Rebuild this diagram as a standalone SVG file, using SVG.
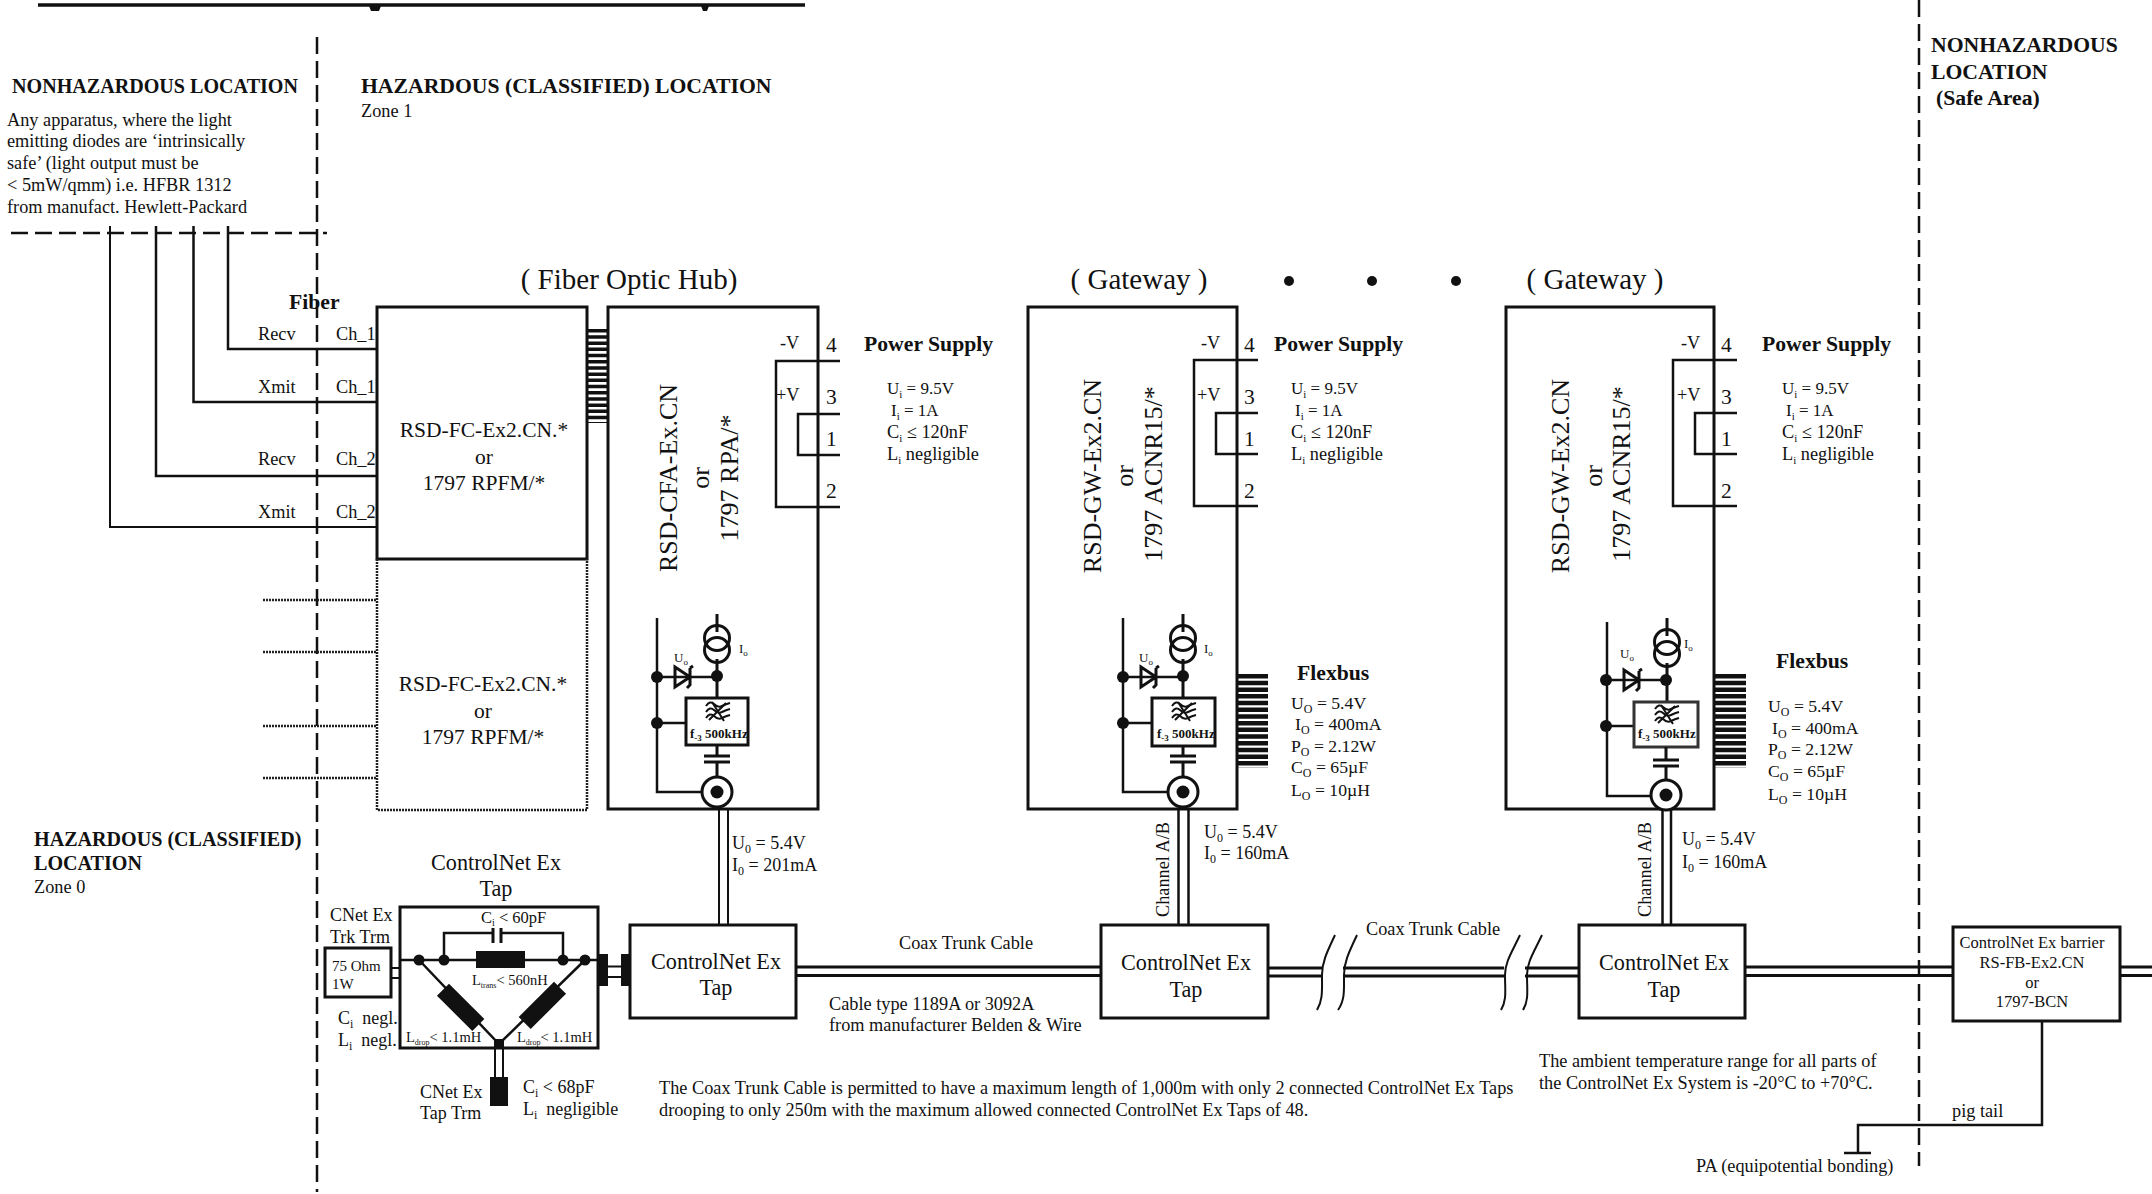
<svg xmlns="http://www.w3.org/2000/svg" xmlns:xlink="http://www.w3.org/1999/xlink" width="2152" height="1194" viewBox="0 0 2152 1194">
<style>
text{font-family:"Liberation Serif","Times New Roman",serif;fill:#111;font-size:18px}
.b{font-weight:bold;font-size:21.700px}
.b2{font-weight:bold;font-size:20.100px}
.m{font-size:21.500px}
.m2{font-size:22.200px}
.t{font-size:29px}
.r{font-size:26px}
.s{font-size:18.300px}
.p{font-size:17px}
.p2{font-size:17.700px}
.q{font-size:16.500px}
.z{font-size:14.500px}
.xs{font-size:13px}
.c{text-anchor:middle}
.l{fill:none;stroke:#111;stroke-width:2.5}
.th{fill:none;stroke:#111;stroke-width:3}
.n{fill:none;stroke:#111;stroke-width:2}
.d{fill:none;stroke:#111;stroke-width:2.5;stroke-dasharray:17 7}
.dot{fill:none;stroke:#222;stroke-width:2.5;stroke-dasharray:2 1}
.box{fill:#fff;stroke:#111;stroke-width:3}
.f{fill:#111;stroke:none}
</style>
<defs>
<g id="power">
<path class="l" d="M64 0H0V146H64M64 53H22V94H64"/>
</g>
<g id="src">
<path class="th" d="M0 0V18M0 45V84"/>
<circle class="th" cx="0" cy="24" r="12.5" fill="none"/>
<circle class="th" cx="0" cy="36" r="12.5" fill="none"/>
</g>
<g id="cap"><path class="th" d="M-13 0H13M-13 6H13"/></g>
<g id="coax"><circle cx="0" cy="0" r="15" fill="#fff" stroke="#111" stroke-width="3"/><circle class="f" r="6.5"/></g>
<g id="diode"><path class="th" d="M0 -10L15 0L0 10ZM15 -9V8L12 11M15 -9L18 -11" fill="none"/></g>
<g id="wave"><path class="n" d="M-12 -5q4 -6 8 -2t8 2t8 -3M-12 1q4 -6 8 -2t8 2t8 -3M-12 7q4 -6 8 -2t8 2t8 -3"/><path class="n" d="M-6 -9L6 10M-9 9L8 -8" stroke-width="1"/></g>
</defs>
<rect width="2152" height="1194" fill="#fff"/>

<g id="connectors">
<path d="M38 5H805" stroke="#111" stroke-width="3.5"/>
<path class="f" d="M369 6h12l-2 5h-8zM701 6h8l-2 5h-4z"/>
<path class="d" d="M317 37V1192"/>
<path class="d" d="M1919 0V1166"/>
<path class="d" d="M11 233H327"/>
<path class="l" d="M228 226V349H377M193.500 226V402H377M156 226V476H377"/>
<path class="n" d="M110 226V527H377"/>
<path class="dot" d="M263 600H377M263 652H377M263 726H377M263 778H377"/>
<!-- vertical drop cables -->
<path class="n" d="M719 810V925M728 810V925" stroke-width="3"/>
<path class="l" d="M1178.500 809V925M1188.500 809V925" stroke-width="3"/>
<path class="l" d="M1662.500 809V925M1671 809V925" stroke-width="3"/>
<!-- trunk -->
<path class="th" d="M796 967H1101M796 975.500H1101M1268 968H1323M1268 976H1323M1343 968H1504M1343 976H1504M1525 968H1579M1525 976H1579M1745 967H1953M1745 975.500H1953M2120 967H2152M2120 975.500H2152"/>
<path class="n" d="M1335 935C1327 952 1322 962 1322 975C1322 990 1323 1000 1317 1010M1357 935C1349 952 1344 962 1344 975C1344 990 1345 1000 1338 1010M1520 935C1512 952 1505 962 1505 975C1505 990 1507 1000 1501 1010M1542 935C1534 952 1527 962 1527 975C1527 990 1529 1000 1523 1010"/>
<path class="l" d="M2042 1021V1125H1858V1153M1844 1153H1871"/>
<!-- tap connectors -->
<path class="f" d="M598 954h10v32h-10zM621 954h9v32h-9z"/>
<path class="n" d="M608 966.500H621M608 977H621" stroke-width="2.500"/>
<path class="n" d="M391 968H401V978H391Z"/>
<path class="n" d="M495 1048V1077M503 1048V1077"/>
<rect class="f" x="490" y="1077" width="18" height="29"/>
</g>

<g id="location-labels">
<text class="b2" x="12" y="93">NONHAZARDOUS LOCATION</text>
<text x="7" y="126" class="s">Any apparatus, where the light</text>
<text x="7" y="147" class="s">emitting diodes are ‘intrinsically</text>
<text x="7" y="169" class="s">safe’ (light output must be</text>
<text x="7" y="191" class="s">&lt; 5mW/qmm) i.e. HFBR 1312</text>
<text x="7" y="213" class="s">from manufact. Hewlett-Packard</text>
<text class="b" x="361" y="93">HAZARDOUS (CLASSIFIED) LOCATION</text>
<text x="361" y="117" class="s">Zone 1</text>
<text class="b2" x="34" y="846">HAZARDOUS (CLASSIFIED)</text>
<text class="b2" x="34" y="870">LOCATION</text>
<text x="34" y="893" class="s">Zone 0</text>
<text class="b" x="1931" y="52">NONHAZARDOUS</text>
<text class="b" x="1931" y="79">LOCATION</text>
<text class="b" x="1936" y="105">(Safe Area)</text>
<text class="b" x="289" y="309">Fiber</text>
<text x="258" y="340" class="s">Recv</text>
<text x="336" y="340" class="s">Ch_1</text>
<text x="258" y="393" class="s">Xmit</text>
<text x="336" y="393" class="s">Ch_1</text>
<text x="258" y="465" class="s">Recv</text>
<text x="336" y="465" class="s">Ch_2</text>
<text x="258" y="518" class="s">Xmit</text>
<text x="336" y="518" class="s">Ch_2</text>
</g>

<g id="fiber-module-1">
<rect class="box" x="377" y="307" width="210" height="252"/>
<text class="m c" x="484" y="437">RSD-FC-Ex2.CN.*</text>
<text class="m c" x="484" y="464">or</text>
<text class="m c" x="484" y="490">1797 RPFM/*</text>
</g>

<g id="fiber-module-2">
<path class="dot" d="M377 559V810H587V559"/>
<text class="m c" x="483" y="691">RSD-FC-Ex2.CN.*</text>
<text class="m c" x="483" y="718">or</text>
<text class="m c" x="483" y="744">1797 RPFM/*</text>
</g>

<g id="backplane-comb">
<path d="M597.500 329V423" stroke="#111" stroke-width="21" stroke-dasharray="3.500 2.700" fill="none"/>
</g>

<g id="hub">
<text class="t c" x="629" y="289">( Fiber Optic Hub)</text>
<rect class="box" x="608" y="307" width="210" height="502"/>
<use xlink:href="#power" href="#power" x="776" y="361"/>
<text x="780" y="349" class="s">-V</text>
<text x="776" y="401" class="s">+V</text>
<text x="826" y="352" class="m">4</text>
<text x="826" y="404" class="m">3</text>
<text x="826" y="446" class="m">1</text>
<text x="826" y="498" class="m">2</text>
<text class="r c" transform="translate(677 478) rotate(-90)">RSD-CFA-Ex.CN</text>
<text class="r c" transform="translate(709 478) rotate(-90)">or</text>
<text class="r c" transform="translate(738 478) rotate(-90)">1797 RPA/*</text>
<path class="l" d="M657 618V792H702M657 723H686"/>
<use xlink:href="#src" href="#src" x="717" y="614"/>
<circle class="f" cx="657" cy="677" r="6"/><circle class="f" cx="717" cy="676" r="6"/><circle class="f" cx="657" cy="723" r="6"/>
<path class="l" d="M657 677H717"/>
<use xlink:href="#diode" href="#diode" x="675" y="677"/>
<rect x="686" y="698" width="62" height="47" fill="#fff" stroke="#111" stroke-width="3"/>
<use xlink:href="#wave" href="#wave" x="718" y="711"/>
<text x="690" y="738" class="xs" font-weight="bold">f<tspan dy="3" font-size="9">-3</tspan><tspan dy="-3"> 500kHz</tspan></text>
<path class="th" d="M717 745V756M717 762V780"/>
<use xlink:href="#cap" href="#cap" x="717" y="756"/>
<use xlink:href="#coax" href="#coax" x="717" y="792"/>
<text x="674" y="662" class="xs">U<tspan dy="3" font-size="9">o</tspan></text>
<text x="739" y="653" class="xs">I<tspan dy="3" font-size="9">o</tspan></text>
<text x="732" y="849">U<tspan dy="4" font-size="12">0</tspan><tspan dy="-4"> = 5.4V</tspan></text>
<text x="732" y="871">I<tspan dy="4" font-size="12">0</tspan><tspan dy="-4"> = 201mA</tspan></text>
</g>
<g id="hub-power-label">
<text class="b" x="864" y="351">Power Supply</text>
<text x="887" y="394" class="p">U<tspan dy="4" font-size="11">i</tspan><tspan dy="-4"> = 9.5V</tspan></text>
<text x="891" y="416" class="p">I<tspan dy="4" font-size="11">i</tspan><tspan dy="-4"> = 1A</tspan></text>
<text x="887" y="438" class="s">C<tspan dy="4" font-size="11">i</tspan><tspan dy="-4"> ≤ 120nF</tspan></text>
<text x="887" y="460" class="s">L<tspan dy="4" font-size="11">i</tspan><tspan dy="-4"> negligible</tspan></text>
</g>

<g id="gateway-1">
<text class="t c" x="1139" y="289">( Gateway )</text>
<rect class="box" x="1028" y="307" width="209" height="502"/>
<use xlink:href="#power" href="#power" x="1194" y="360"/>
<text x="1201" y="349" class="s">-V</text>
<text x="1197" y="401" class="s">+V</text>
<text x="1244" y="352" class="m">4</text>
<text x="1244" y="404" class="m">3</text>
<text x="1244" y="446" class="m">1</text>
<text x="1244" y="498" class="m">2</text>
<text class="r c" transform="translate(1101 476) rotate(-90)">RSD-GW-Ex2.CN</text>
<text class="r c" transform="translate(1133 476) rotate(-90)">or</text>
<text class="r c" transform="translate(1162 474) rotate(-90)">1797 ACNR15/*</text>
<path class="l" d="M1123 618V792H1168M1123 723H1152"/>
<use xlink:href="#src" href="#src" x="1183" y="614"/>
<circle class="f" cx="1123" cy="677" r="6"/><circle class="f" cx="1183" cy="676" r="6"/><circle class="f" cx="1123" cy="723" r="6"/>
<path class="l" d="M1123 677H1183"/>
<use xlink:href="#diode" href="#diode" x="1141" y="677"/>
<rect x="1152" y="698" width="63" height="48" fill="#fff" stroke="#111" stroke-width="3"/>
<use xlink:href="#wave" href="#wave" x="1184" y="711"/>
<text x="1157" y="738" class="xs" font-weight="bold">f<tspan dy="3" font-size="9">-3</tspan><tspan dy="-3"> 500kHz</tspan></text>
<path class="th" d="M1183 746V756M1183 762V780"/>
<use xlink:href="#cap" href="#cap" x="1183" y="756"/>
<use xlink:href="#coax" href="#coax" x="1183" y="792"/>
<text x="1139" y="662" class="xs">U<tspan dy="3" font-size="9">o</tspan></text>
<text x="1204" y="653" class="xs">I<tspan dy="3" font-size="9">o</tspan></text>
<path d="M1252.500 674V768" stroke="#111" stroke-width="31" stroke-dasharray="4.500 2.200" fill="none"/>
<text class="b" x="1274" y="351">Power Supply</text>
<text x="1291" y="394" class="p">U<tspan dy="4" font-size="11">i</tspan><tspan dy="-4"> = 9.5V</tspan></text>
<text x="1295" y="416" class="p">I<tspan dy="4" font-size="11">i</tspan><tspan dy="-4"> = 1A</tspan></text>
<text x="1291" y="438" class="s">C<tspan dy="4" font-size="11">i</tspan><tspan dy="-4"> ≤ 120nF</tspan></text>
<text x="1291" y="460" class="s">L<tspan dy="4" font-size="11">i</tspan><tspan dy="-4"> negligible</tspan></text>
<text class="b" x="1297" y="680">Flexbus</text>
<text x="1291" y="709" class="p2">U<tspan dy="4" font-size="12">O</tspan><tspan dy="-4"> = 5.4V</tspan></text>
<text x="1295" y="730" class="p2">I<tspan dy="4" font-size="12">O</tspan><tspan dy="-4"> = 400mA</tspan></text>
<text x="1291" y="752" class="p2">P<tspan dy="4" font-size="12">O</tspan><tspan dy="-4"> = 2.12W</tspan></text>
<text x="1291" y="773" class="p2">C<tspan dy="4" font-size="12">O</tspan><tspan dy="-4"> = 65µF</tspan></text>
<text x="1291" y="796" class="p2">L<tspan dy="4" font-size="12">O</tspan><tspan dy="-4"> = 10µH</tspan></text>
<text x="1204" y="838">U<tspan dy="4" font-size="12">0</tspan><tspan dy="-4"> = 5.4V</tspan></text>
<text x="1204" y="859">I<tspan dy="4" font-size="12">0</tspan><tspan dy="-4"> = 160mA</tspan></text>
<text x="1169" y="917" class="s" transform="rotate(-90 1169 917)">Channel A/B</text>
</g>

<g id="ellipsis"><circle class="f" cx="1289" cy="281" r="5"/><circle class="f" cx="1372" cy="281" r="5"/><circle class="f" cx="1456" cy="281" r="5"/></g>

<g id="gateway-2">
<text class="t c" x="1595" y="289">( Gateway )</text>
<rect class="box" x="1506" y="307" width="208" height="502"/>
<use xlink:href="#power" href="#power" x="1673" y="360"/>
<text x="1681" y="349" class="s">-V</text>
<text x="1677" y="401" class="s">+V</text>
<text x="1721" y="352" class="m">4</text>
<text x="1721" y="404" class="m">3</text>
<text x="1721" y="446" class="m">1</text>
<text x="1721" y="498" class="m">2</text>
<text class="r c" transform="translate(1569 476) rotate(-90)">RSD-GW-Ex2.CN</text>
<text class="r c" transform="translate(1602 476) rotate(-90)">or</text>
<text class="r c" transform="translate(1630 474) rotate(-90)">1797 ACNR15/*</text>
<path class="l" d="M1607 622V796H1651M1606 726H1634"/>
<use xlink:href="#src" href="#src" x="1667" y="618"/>
<circle class="f" cx="1606" cy="680" r="6"/><circle class="f" cx="1666" cy="680" r="6"/><circle class="f" cx="1606" cy="726" r="6"/>
<path class="l" d="M1606 680H1666"/>
<use xlink:href="#diode" href="#diode" x="1624" y="680"/>
<rect x="1634" y="702" width="64" height="45" fill="#fff" stroke="#333" stroke-width="3"/>
<use xlink:href="#wave" href="#wave" x="1667" y="714"/>
<text x="1638" y="738" class="xs" font-weight="bold">f<tspan dy="3" font-size="9">-3</tspan><tspan dy="-3"> 500kHz</tspan></text>
<path class="th" d="M1666 747V760M1666 766V783"/>
<use xlink:href="#cap" href="#cap" x="1666" y="760"/>
<use xlink:href="#coax" href="#coax" x="1666" y="795"/>
<text x="1620" y="658" class="xs">U<tspan dy="3" font-size="9">o</tspan></text>
<text x="1684" y="648" class="xs">I<tspan dy="3" font-size="9">o</tspan></text>
<path d="M1730.500 674V768" stroke="#111" stroke-width="31" stroke-dasharray="4.500 2.200" fill="none"/>
<text class="b" x="1762" y="351">Power Supply</text>
<text x="1782" y="394" class="p">U<tspan dy="4" font-size="11">i</tspan><tspan dy="-4"> = 9.5V</tspan></text>
<text x="1786" y="416" class="p">I<tspan dy="4" font-size="11">i</tspan><tspan dy="-4"> = 1A</tspan></text>
<text x="1782" y="438" class="s">C<tspan dy="4" font-size="11">i</tspan><tspan dy="-4"> ≤ 120nF</tspan></text>
<text x="1782" y="460" class="s">L<tspan dy="4" font-size="11">i</tspan><tspan dy="-4"> negligible</tspan></text>
<text class="b" x="1776" y="668">Flexbus</text>
<text x="1768" y="712" class="p2">U<tspan dy="4" font-size="12">O</tspan><tspan dy="-4"> = 5.4V</tspan></text>
<text x="1772" y="734" class="p2">I<tspan dy="4" font-size="12">O</tspan><tspan dy="-4"> = 400mA</tspan></text>
<text x="1768" y="755" class="p2">P<tspan dy="4" font-size="12">O</tspan><tspan dy="-4"> = 2.12W</tspan></text>
<text x="1768" y="777" class="p2">C<tspan dy="4" font-size="12">O</tspan><tspan dy="-4"> = 65µF</tspan></text>
<text x="1768" y="800" class="p2">L<tspan dy="4" font-size="12">O</tspan><tspan dy="-4"> = 10µH</tspan></text>
<text x="1682" y="845">U<tspan dy="4" font-size="12">0</tspan><tspan dy="-4"> = 5.4V</tspan></text>
<text x="1682" y="868">I<tspan dy="4" font-size="12">0</tspan><tspan dy="-4"> = 160mA</tspan></text>
<text x="1651" y="917" class="s" transform="rotate(-90 1651 917)">Channel A/B</text>
</g>

<g id="tap-detail">
<text class="m2 c" x="496" y="870">ControlNet Ex</text>
<text class="m2 c" x="496" y="896">Tap</text>
<rect class="box" x="400" y="907" width="198" height="141"/>
<path class="l" d="M400 960H598M444 960V933H493M501 933H563V960M419 960L499 1044L585 960"/>
<path class="th" d="M493 928V943M501 928V943"/>
<rect class="f" x="476" y="951" width="49" height="17"/>
<rect class="f" x="436" y="999" width="50" height="17" transform="rotate(45 461 1007)"/>
<rect class="f" x="517" y="997" width="50" height="17" transform="rotate(-45 542 1005)"/>
<circle class="f" cx="419" cy="960" r="5.500"/><circle class="f" cx="444" cy="960" r="5.500"/><circle class="f" cx="563" cy="960" r="5.500"/><circle class="f" cx="585" cy="960" r="5.500"/>
<rect class="f" x="494" y="1039" width="10" height="10"/>
<text x="481" y="923" class="q">C<tspan dy="3" font-size="10">i</tspan><tspan dy="-3"> &lt; 60pF</tspan></text>
<text x="472" y="985" class="z">L<tspan dy="3" font-size="8">trans</tspan><tspan dy="-3">&lt; 560nH</tspan></text>
<text x="406" y="1042" class="z">L<tspan dy="3" font-size="8">drop</tspan><tspan dy="-3">&lt; 1.1mH</tspan></text>
<text x="517" y="1042" class="z">L<tspan dy="3" font-size="8">drop</tspan><tspan dy="-3">&lt; 1.1mH</tspan></text>
</g>

<g id="trunk-terminator">
<text x="330" y="921">CNet Ex</text>
<text x="330" y="943">Trk Trm</text>
<rect class="box" x="325" y="948" width="66" height="49"/>
<text x="332" y="971" font-size="15" style="font-size:15px">75 Ohm</text>
<text x="332" y="989" style="font-size:15px">1W</text>
<text x="338" y="1024">C<tspan dy="4" font-size="12">i</tspan><tspan dy="-4"> &#160;negl.</tspan></text>
<text x="338" y="1046">L<tspan dy="4" font-size="12">i</tspan><tspan dy="-4"> &#160;negl.</tspan></text>
</g>

<g id="tap-terminator">
<text x="420" y="1098">CNet Ex</text>
<text x="420" y="1119">Tap Trm</text>
<text x="523" y="1093">C<tspan dy="4" font-size="12">i</tspan><tspan dy="-4"> &lt; 68pF</tspan></text>
<text x="523" y="1115">L<tspan dy="4" font-size="12">i</tspan><tspan dy="-4"> &#160;negligible</tspan></text>
</g>

<g id="tap-1"><rect class="box" x="630" y="925" width="166" height="93"/>
<text class="m2 c" x="716" y="969">ControlNet Ex</text><text class="m2 c" x="716" y="995">Tap</text></g>
<g id="tap-2"><rect class="box" x="1101" y="925" width="167" height="93"/>
<text class="m2 c" x="1186" y="970">ControlNet Ex</text><text class="m2 c" x="1186" y="997">Tap</text></g>
<g id="tap-3"><rect class="box" x="1579" y="925" width="166" height="93"/>
<text class="m2 c" x="1664" y="970">ControlNet Ex</text><text class="m2 c" x="1664" y="997">Tap</text></g>
<g id="barrier"><rect class="box" x="1953" y="927" width="167" height="94"/>
<text class="q c" x="2032" y="948">ControlNet Ex barrier</text>
<text class="q c" x="2032" y="968">RS-FB-Ex2.CN</text>
<text class="q c" x="2032" y="988">or</text>
<text class="q c" x="2032" y="1007">1797-BCN</text></g>

<g id="notes">
<text class="s c" x="966" y="949">Coax Trunk Cable</text>
<text class="s" x="1366" y="935">Coax Trunk Cable</text>
<text class="s" x="829" y="1010">Cable type 1189A or 3092A</text>
<text class="s" x="829" y="1031">from manufacturer Belden &amp; Wire</text>
<text class="s" x="659" y="1094">The Coax Trunk Cable is permitted to have a maximum length of 1,000m with only 2 connected ControlNet Ex Taps</text>
<text class="s" x="659" y="1116">drooping to only 250m with the maximum allowed connected ControlNet Ex Taps of 48.</text>
<text class="s" x="1539" y="1067">The ambient temperature range for all parts of</text>
<text class="s" x="1539" y="1089">the ControlNet Ex System is -20°C to +70°C.</text>
<text class="s" x="1952" y="1117">pig tail</text>
<text class="s" x="1696" y="1172">PA (equipotential bonding)</text>
</g>
</svg>
